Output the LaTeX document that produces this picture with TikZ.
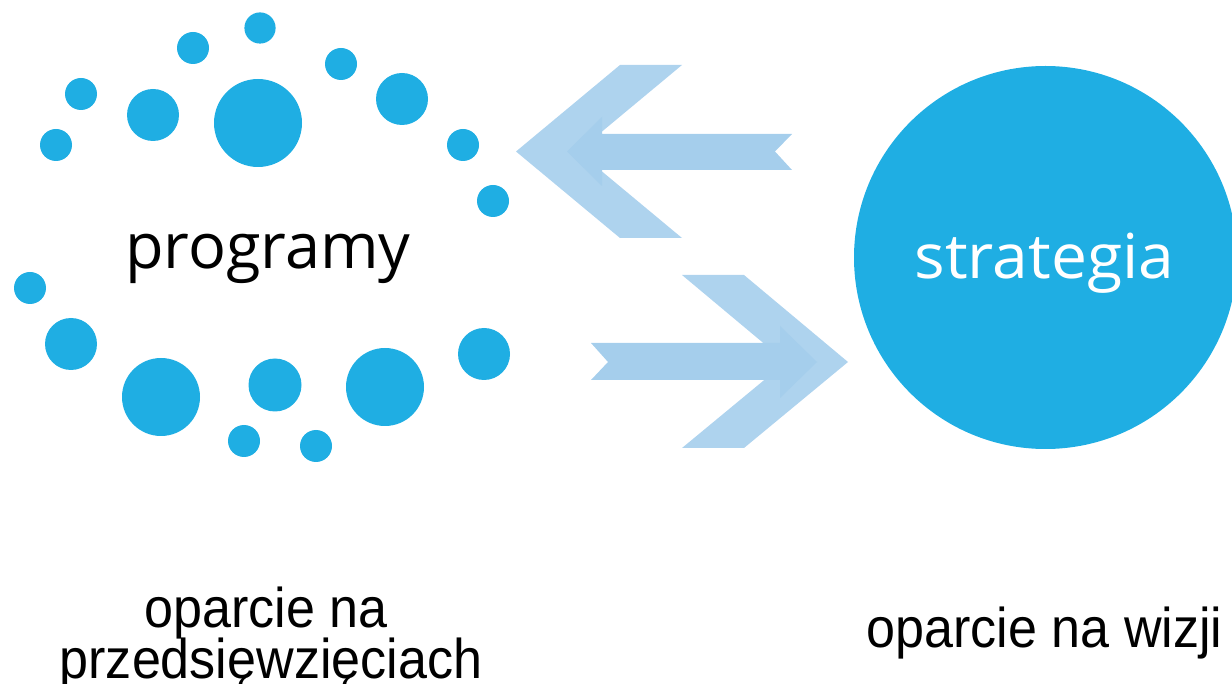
\documentclass[tikz,border=0pt]{standalone}
\usepackage{fontspec}
\setmainfont{Open Sans}
\newfontfamily\labfont[FakeStretch=0.93]{Liberation Sans}
\newfontfamily\strfont[FakeStretch=1.035]{Open Sans}
\definecolor{dotblue}{HTML}{1FAEE3}
\definecolor{chevblue}{HTML}{AED3EE}
\definecolor{shaftblue}{HTML}{A5CEEC}
\begin{document}
\begin{tikzpicture}[x=1pt,y=-1pt,
  dot/.style={fill=dotblue},
  chevron/.style={fill=chevblue},
  shaft/.style={fill=shaftblue},
  bigtxt/.style={anchor=base,inner sep=0pt,font=\fontsize{63}{70}\selectfont},
  strtxt/.style={anchor=base,inner sep=0pt,text=white,font=\strfont\fontsize{62}{70}\selectfont},
  captxt/.style={anchor=base,inner sep=0pt,font=\labfont\fontsize{56}{51}\selectfont}]
\useasboundingbox (0,0) rectangle (1232,684);
% dots around "programy"
\foreach \x/\y/\r in {260/28/15.6, 193/48/16, 341/64/16, 81/94/16, 153/115/26,
  258/123/44, 402/99/26, 56/145/16, 463/145/16, 493/201/16, 30/288/16,
  71/344/26, 161/397/39, 275/385/26.5, 385/387/39, 484/354/26, 244/441/16, 316/446/16}
  \fill[dot] (\x,\y) circle[radius=\r];
\node[bigtxt] (prog) at (268,269) {programy};
% big circle
\fill[dot] (1045.5,257.5) circle[radius=191.5];
\node[strtxt] (strat) at (1044.5,279) {strategia};
% left arrow
\fill[chevron] (516,151.5) -- (620,65) -- (682,65) -- (578,151.5) -- (682,238) -- (620,238) -- cycle;
\fill[shaft] (792,134) -- (602,134) -- (602,117) -- (567,151.5) -- (602,186) -- (602,170) -- (792,170) -- (775,151.5) -- cycle;
% right arrow
\fill[chevron] (682,275) -- (744,275) -- (848,362) -- (744,448) -- (682,448) -- (786,362) -- cycle;
\fill[shaft] (591,343) -- (780,343) -- (780,326) -- (817,362) -- (780,398) -- (780,380) -- (591,380) -- (608,362) -- cycle;
% captions
\node[captxt] (c1) at (266,627) {oparcie na};
\node[captxt] (c2) at (271,678) {przedsięwzięciach};
\node[captxt] (c3) at (1044.5,647) {oparcie na wizji};
\end{tikzpicture}
\end{document}
